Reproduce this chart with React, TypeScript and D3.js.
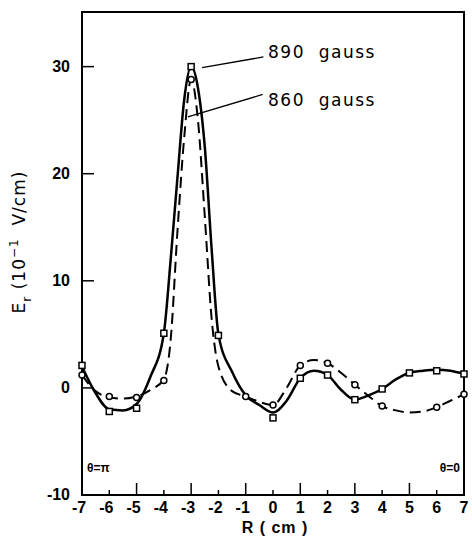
import React from "react";
import * as d3 from "d3";

// R (cm) grid the two fitted curves were read on
const curve890R = [-7, -6.5, -6, -5.5, -5, -4.5, -4, -3.75, -3.5, -3.25, -3, -2.75, -2.5, -2.25, -2, -1.5, -1, -0.5, 0, 0.5, 1, 1.5, 2, 2.5, 3, 3.5, 4, 4.5, 5, 5.5, 6, 6.5, 7];
const curve890E = [2.0, -0.5, -2.0, -2.1, -1.5, 1.0, 5.1, 12, 19.7, 27, 30, 28, 22.5, 13, 5, 1.5, -0.7, -1.6, -2.3, -1.2, 0.9, 1.6, 1.2, -0.2, -1.1, -0.7, -0.1, 0.8, 1.4, 1.6, 1.7, 1.6, 1.3];
const curve860R = [-7, -6.5, -6, -5.5, -5, -4.5, -4, -3.75, -3.5, -3.25, -3, -2.75, -2.5, -2.25, -2, -1.5, -1, -0.5, 0, 0.5, 1, 1.5, 2, 2.5, 3, 3.5, 4, 4.5, 5, 5.5, 6, 6.5, 7];
const curve860E = [1.2, -0.3, -0.9, -1.0, -0.8, -0.2, 0.8, 4.5, 14.7, 23.5, 28.8, 25, 16, 6.5, 2, -0.3, -0.8, -1.3, -1.6, 0, 2.1, 2.6, 2.3, 1.4, 0.3, -0.75, -1.7, -2.1, -2.3, -2.2, -1.8, -1.2, -0.6];

// measured points
const marks890R = [-7, -6, -5, -4, -3, -2, 0, 1, 2, 3, 4, 5, 6, 7];
const marks890E = [2.1, -2.2, -1.9, 5.1, 30, 4.9, -2.8, 0.9, 1.2, -1.1, -0.1, 1.4, 1.6, 1.3];
const marks860R = [-7, -6, -5, -4, -3, -1, 0, 1, 2, 3, 4, 6, 7];
const marks860E = [1.2, -0.8, -0.9, 0.7, 28.8, -0.8, -1.6, 2.1, 2.3, 0.3, -1.7, -1.8, -0.6];

const rTicks = [-7, -6, -5, -4, -3, -2, -1, 0, 1, 2, 3, 4, 5, 6, 7];
const eTicks = [-10, 0, 10, 20, 30];

const width = 472;
const height = 544;
const left = 82, right = 464, top = 12, bottom = 495;

const x = d3.scaleLinear().domain([-7, 7]).range([left, right]);
const y = d3.scaleLinear().domain([-10, 35.1]).range([bottom, top]);

function path(rs: number[], es: number[]) {
  const pts: [number, number][] = rs.map((r, i) => [x(r), y(es[i])]);
  return d3.line().curve(d3.curveMonotoneX)(pts) || "";
}

const tickFont = "'Liberation Sans', Arial, sans-serif";
const textFont = "'DejaVu Sans', sans-serif";

export default function App() {
  return (
    <svg
      width={width}
      height={height}
      style={{ position: "absolute", left: 0, top: 0, background: "#fff" }}
    >
      {/* frame */}
      <rect x={left} y={top} width={right - left} height={bottom - top} fill="none" stroke="#000" strokeWidth={2} />

      {/* y ticks, inward */}
      {eTicks.filter((t) => t > -10).map((t) => (
        <line key={"yt" + t} x1={left} x2={left + 12} y1={y(t)} y2={y(t)} stroke="#000" strokeWidth={1.5} />
      ))}
      {eTicks.map((t) => (
        <text key={"yl" + t} x={left - 12} y={y(t) + 5} textAnchor="end" fontFamily={tickFont} fontWeight="bold" fontSize={16}>
          {t < 0 ? "-" + Math.abs(t) : t}
        </text>
      ))}

      {/* x ticks, inward, long on odd */}
      {rTicks.filter((t) => t > -7 && t < 7).map((t) => (
        <line key={"xt" + t} x1={x(t)} x2={x(t)} y1={bottom} y2={bottom - (Math.abs(t) % 2 === 1 ? 12 : 5)} stroke="#000" strokeWidth={1.5} />
      ))}
      {rTicks.map((t) => (
        <text key={"xl" + t} x={x(t) - (t < 0 ? 3 : 0)} y={bottom + 18} textAnchor="middle" fontFamily={tickFont} fontWeight="bold" fontSize={16}>
          {t < 0 ? "-" + Math.abs(t) : t}
        </text>
      ))}

      <text x={x(0) + 2} y={bottom + 38} textAnchor="middle" fontFamily={tickFont} fontWeight="bold" fontSize={16} letterSpacing={1} style={{ whiteSpace: "pre" }}>
        R ( cm )
      </text>

      {/* y title */}
      <text transform={`translate(25, 242) rotate(-90)`} textAnchor="middle" fontFamily={textFont} fontSize={17} letterSpacing={1} style={{ whiteSpace: "pre" }}>
        E<tspan dy={6} fontSize={12}>r</tspan>
        <tspan dy={-6}>{" (10"}</tspan>
        <tspan dy={-7} fontSize={12}>−1</tspan>
        <tspan dy={7}>{"  V/cm)"}</tspan>
      </text>

      {/* curves */}
      <path d={path(curve890R, curve890E)} fill="none" stroke="#000" strokeWidth={2.5} />
      <path d={path(curve860R, curve860E)} fill="none" stroke="#000" strokeWidth={2} strokeDasharray="11 6" />

      {/* markers */}
      {marks890R.map((r, i) => (
        <rect key={"m1" + i} x={x(r) - 3} y={y(marks890E[i]) - 3} width={6} height={6} fill="#fff" stroke="#000" strokeWidth={1.5} />
      ))}
      {marks860R.map((r, i) => (
        <circle key={"m2" + i} cx={x(r)} cy={y(marks860E[i])} r={3} fill="#fff" stroke="#000" strokeWidth={1.5} />
      ))}

      {/* annotations */}
      <line x1={x(-2.6)} y1={y(29.9)} x2={x(-0.35)} y2={y(30.9)} stroke="#000" strokeWidth={1.3} />
      <text x={268} y={y(30.8)} fontFamily={textFont} fontSize={17} letterSpacing={1.5} style={{ whiteSpace: "pre" }}>{"890  gauss"}</text>
      <line x1={x(-3.12)} y1={y(25.3)} x2={x(-0.38)} y2={y(27.4)} stroke="#000" strokeWidth={1.3} />
      <text x={268} y={y(26.35)} fontFamily={textFont} fontSize={17} letterSpacing={1.5} style={{ whiteSpace: "pre" }}>{"860  gauss"}</text>

      <text x={left + 5} y={bottom - 23} fontFamily={tickFont} fontWeight="bold" fontSize={12}>θ=π</text>
      <text x={right - 4} y={bottom - 23} textAnchor="end" fontFamily={tickFont} fontWeight="bold" fontSize={12}>θ=0</text>
    </svg>
  );
}
